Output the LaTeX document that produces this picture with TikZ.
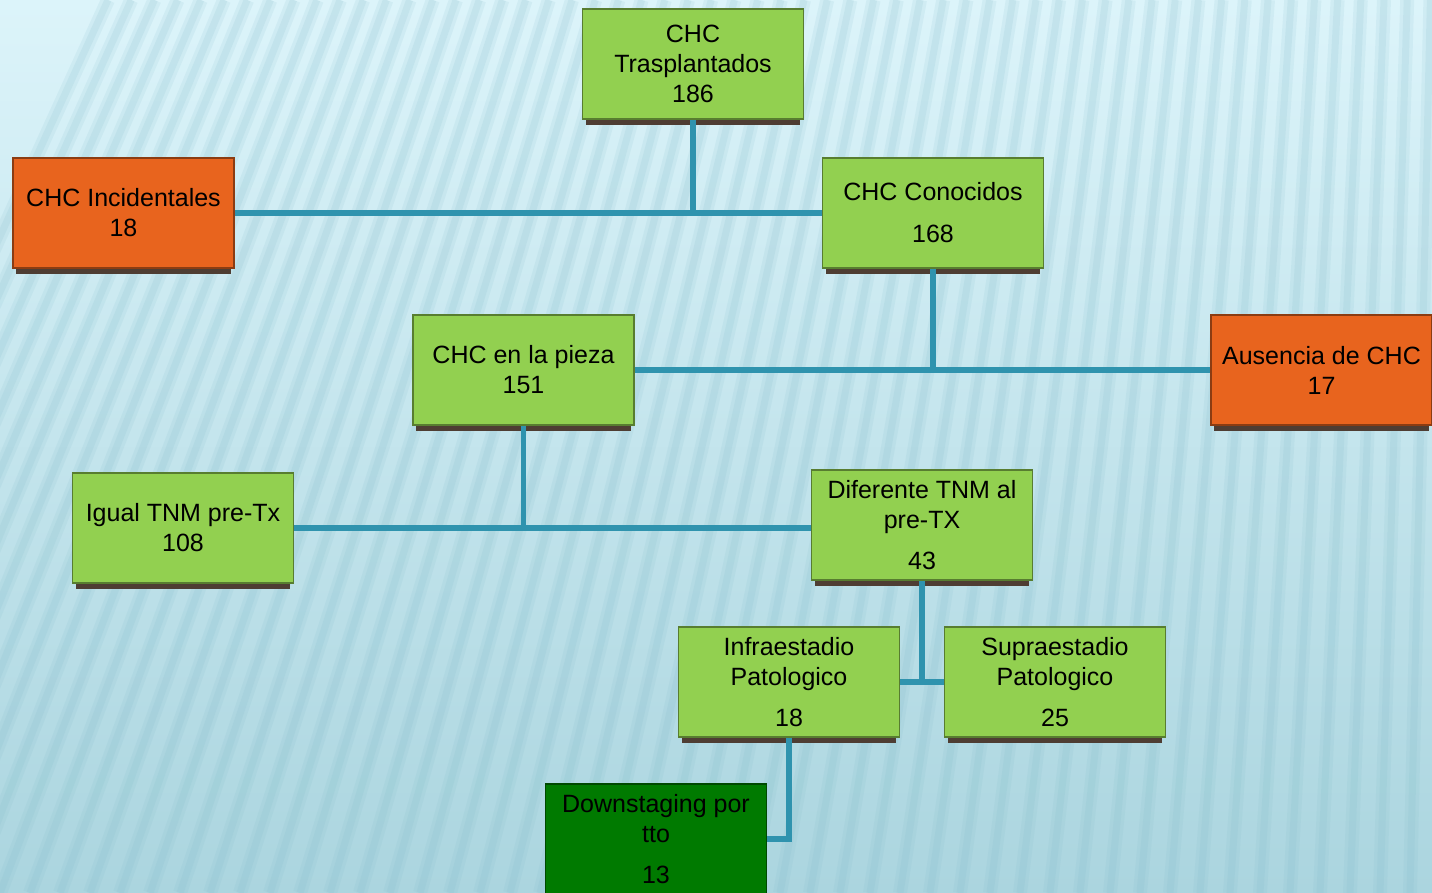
\documentclass[tikz,border=0pt]{standalone}
\usepackage{fontspec}
\setmainfont{Liberation Sans}
\usetikzlibrary{shadows}
\definecolor{boxgreen}{HTML}{92D050}
\definecolor{darkgreen}{HTML}{007A00}
\definecolor{boxorange}{HTML}{E8641E}
\definecolor{shadowbrown}{HTML}{4E3D33}
\definecolor{linkblue}{HTML}{2F93AE}
\definecolor{skytop}{HTML}{DCF4FA}
\definecolor{skybottom}{HTML}{ABD5DF}
\definecolor{stripeblue}{HTML}{7FB9C8}

\begin{document}
\begin{tikzpicture}[
      x=0.5pt,y=-0.5pt,
      box/.style ={draw=#1!60!black,fill=#1,line width=0.6pt,minimum width=110.5pt,minimum height=55pt,
                   inner sep=0pt,align=center,font=\fontsize{12.5}{15}\selectfont,
                   drop shadow={shadow xshift=0pt,shadow yshift=-4.2pt,shadow scale=0.97,fill=shadowbrown,opacity=1}},
      box/.default=boxgreen,
      link/.style={linkblue,line width=2.6pt}]
    \useasboundingbox (0,0) rectangle (1432,893);
    \shade[top color=skytop,bottom color=skybottom] (0,0) rectangle (1432,893);
    \begin{scope}
    \clip (0,0) rectangle (1432,893);
    \foreach \x in {-300,-270,...,1560}{
      \draw[stripeblue,opacity=0.12,line width=7pt] (\x,893) -- ({\x+340*max(0,1-\x/1500)},0);
      \draw[stripeblue,opacity=0.14,line width=3.5pt] (\x,893) -- ({\x+340*max(0,1-\x/1500)},0);}
    \end{scope}
    \draw[link] (693,119) -- (693,213);
    \draw[link] (933,268) -- (933,370);
    \node[box] (tras) at (693,64) {CHC\\Trasplantados\\186};
    \node[box=boxorange] (inc) at (123.5,213) {CHC Incidentales\\18};
    \node[box] (con) at (933,213) {CHC Conocidos\\[6pt]168};
    \node[box] (pie) at (523.5,370) {CHC en la pieza\\151};
    \node[box=boxorange] (aus) at (1321.5,370) {Ausencia de CHC\\17};
    \node[box] (igu) at (183,528) {Igual TNM pre-Tx\\108};
    \node[box] (dif) at (922,525) {Diferente TNM al\\pre-TX\\[5.5pt]43};
    \node[box] (inf) at (789,682) {Infraestadio\\Patologico\\[5.5pt]18};
    \node[box] (sup) at (1055,682) {Supraestadio\\Patologico\\[5.5pt]25};
    \node[box=darkgreen] (dow) at (656,839) {Downstaging por\\tto\\[5.5pt]13};
    \draw[link] (inc.east) -- (con.west);
    \draw[link] (tras.south) -- (tras.south |- inc.east);
    \draw[link] (pie.east) -- (aus.west);
    \draw[link] (con.south) -- (con.south |- pie.east);
    \draw[link] (igu.east) -- (igu.east -| dif.west);
    \draw[link] (pie.south) -- (pie.south |- igu.east);
    \draw[link] (inf.east) -- (sup.west);
    \draw[link] (dif.south) -- (dif.south |- inf.east);
    \draw[link] (inf.south) |- (dow.east);
    \end{tikzpicture}
\end{document}
